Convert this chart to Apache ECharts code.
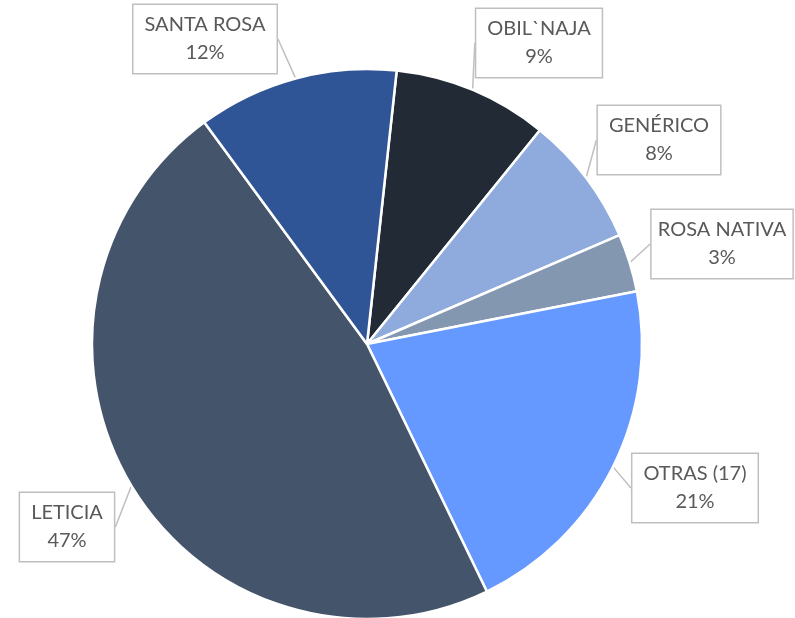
<!DOCTYPE html>
<html>
<head>
<meta charset="utf-8">
<script src="https://cdn.jsdelivr.net/npm/echarts@6/dist/echarts.min.js"></script>
<style>
  html, body { margin: 0; padding: 0; background: #fff; }
  #chart { width: 795px; height: 618px; }
</style>
</head>
<body>
<div id="chart"></div>
<script>
// slices, clockwise from just right of 12 o'clock
var names = ["OBIL`NAJA", "GENÉRICO", "ROSA NATIVA", "OTRAS (17)", "LETICIA", "SANTA ROSA"];
var shares = [9.1, 7.7, 3.4, 20.9, 47.1, 11.8];
var colors = ["#222a35", "#8faadc", "#8497b0", "#6699ff", "#44546a", "#2f5597"];

// where the callout boxes sit (box centres)
var calloutPos = [[539, 43], [659, 140], [722, 244], [695, 488], [67, 527], [205, 39]];

var chart = echarts.init(document.getElementById("chart"));

var data = names.map(function (n, i) {
  return { name: n, value: shares[i], itemStyle: { color: colors[i] } };
});

chart.setOption({
  animation: false,
  series: [
    {
      type: "pie",
      center: [367, 344],
      radius: 275,
      startAngle: 83.8,
      clockwise: true,
      data: data,
      itemStyle: { borderColor: "#fff", borderWidth: 2.5 },
      label: {
        show: true,
        formatter: function (p) {
          return p.name + "\n" + Math.round(p.percent) + "%";
        },
        fontFamily: "Lato",
        fontSize: 20,
        lineHeight: 28,
        color: "#595959",
        align: "center",
        overflow: "none",
        backgroundColor: "#fff",
        borderColor: "#bfbfbf",
        borderWidth: 1.5,
        padding: [7, 11, 5, 11]
      },
      labelLine: {
        show: true,
        length: 10,
        length2: 0,
        lineStyle: { color: "#bfbfbf", width: 1.5 }
      },
      labelLayout: function (params) {
        var p = calloutPos[params.dataIndex];
        return { x: p[0], y: p[1], align: "center", verticalAlign: "middle" };
      },
      emphasis: { disabled: true }
    }
  ]
});
</script>
</body>
</html>
